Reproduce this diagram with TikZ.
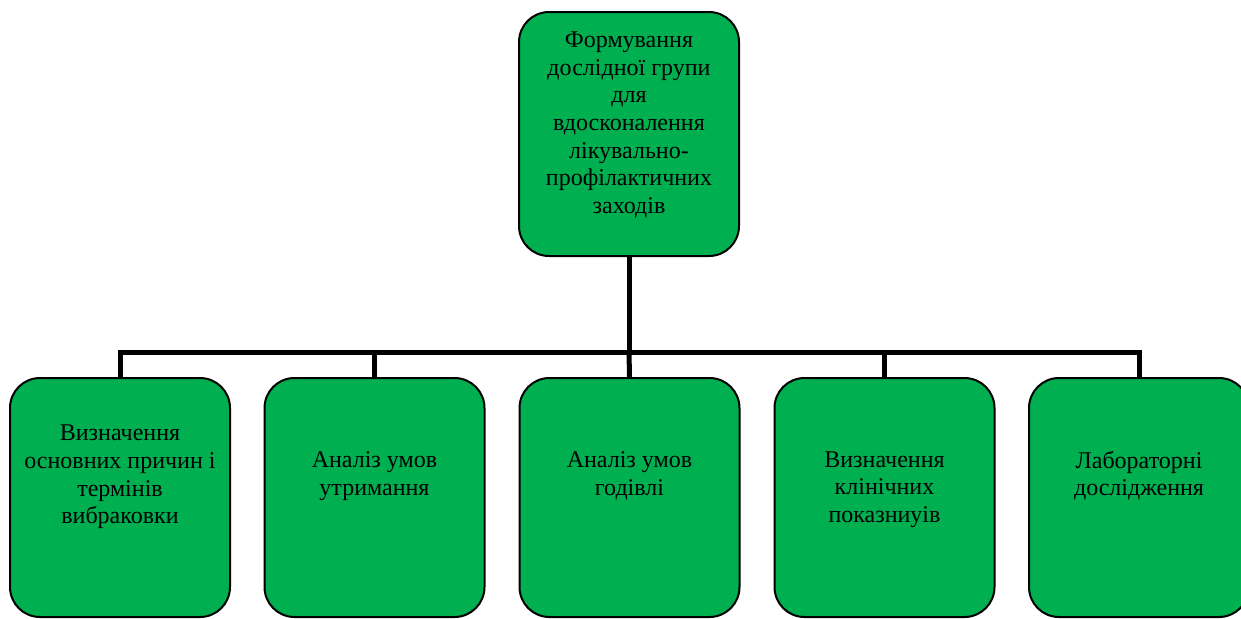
\documentclass[tikz,border=0pt]{standalone}
\usepackage{fontspec}
\setmainfont{Liberation Serif}
\usetikzlibrary{positioning}
\definecolor{leafgreen}{HTML}{00B050}
\tikzstyle{goal} = [rectangle, rounded corners=22.5pt, minimum width=165pt, minimum height=183pt, align=center, draw=black, line width=1.5pt, fill=leafgreen, font=\fontsize{18}{20.7}\selectfont]
\tikzstyle{task} = [rectangle, rounded corners=22.5pt, minimum width=165pt, minimum height=179.25pt, align=center, draw=black, line width=1.5pt, fill=leafgreen, font=\fontsize{18}{20.7}\selectfont]
\tikzstyle{link} = [line width=3.75pt, draw=black]

\begin{document}
\begin{tikzpicture}[x=0.75pt, y=-0.75pt]
\useasboundingbox (0,0) rectangle (1241,618);
\node (top) [goal, text depth=17pt] at (629,134) {Формування\\дослідної групи\\для\\вдосконалення\\лікувально-\\профілактичних\\заходів};
\node (b1) [task, text depth=34.5pt] at (120,497.5) {Визначення\\основних причин і\\термінів\\вибраковки};
\node (b2) [task, text depth=36pt] at (374.5,497.5) {Аналіз умов\\утримання};
\node (b3) [task, text depth=36pt] at (629.5,497.5) {Аналіз умов\\годівлі};
\node (b4) [task, text depth=16pt] at (884.5,497.5) {Визначення\\клінічних\\показниуів};
\node (b5) [task, text depth=36pt] at (1139,497.5) {Лабораторні\\дослідження};
\coordinate (bus) at (629,352);
\draw [link] (top.south) -- (bus);
\draw [link] (bus) -| (b1.north);
\draw [link] (bus) -| (b2.north);
\draw [link] (bus) -- (b3.north);
\draw [link] (bus) -| (b4.north);
\draw [link] (bus) -| (b5.north);
\end{tikzpicture}
\end{document}
